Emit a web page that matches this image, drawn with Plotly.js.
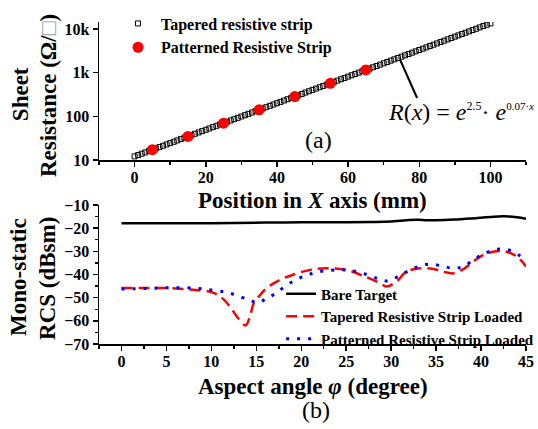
<!DOCTYPE html>
<html><head><meta charset="utf-8">
<script src="https://cdn.plot.ly/plotly-3.0.1.min.js"></script>
<style>body{margin:0;background:#fff}</style>
</head><body><div id="chart" style="width:538px;height:429px"></div>
<script>
// (a) Sheet resistance vs position
const taperedX = [0,1,2,3,4,5,6,7,8,9,10,11,12,13,14,15,16,17,18,19,20,21,22,23,24,25,26,27,28,29,30,31,32,33,34,35,36,37,38,39,40,41,42,43,44,45,46,47,48,49,50,51,52,53,54,55,56,57,58,59,60,61,62,63,64,65,66,67,68,69,70,71,72,73,74,75,76,77,78,79,80,81,82,83,84,85,86,87,88,89,90,91,92,93,94,95,96,97,98,99,100];
const taperedR = [12.18,13.06,14.01,15.03,16.12,17.29,18.54,19.89,21.33,22.88,24.53,26.31,28.22,30.27,32.46,34.81,37.34,40.04,42.95,46.06,49.40,52.98,56.82,60.94,65.36,70.10,75.18,80.63,86.48,92.75,99.48,106.7,114.4,122.7,131.6,141.2,151.4,162.4,174.1,186.8,200.3,214.9,230.4,247.1,265.1,284.3,304.9,327.0,350.7,376.2,403.4,432.7,464.1,497.7,533.8,572.5,614.0,658.5,706.3,757.5,812.4,871.3,934.5,1002,1075,1153,1236,1326,1422,1525,1636,1755,1882,2018,2165,2322,2490,2670,2864,3072,3294,3533,3790,4064,4359,4675,5014,5378,5768,6186,6635,7115,7631,8184,8778,9414,10097,10829,11614,12456,13359];
const patternedX = [5,15,25,35,45,55,65];
const patternedR = [17.3,34.8,70.1,141,284,572,1153];
const resTickVals = [10,100,1000,10000];
const resTickText = ['10','100','1k','10k'];

// (b) Mono-static RCS vs aspect angle
const bareAng = [0,5,10,16,20,25,28,30,31,32,33,34,35,37,39,41,42.5,44,45];
const bareRCS = [-17.9,-17.9,-17.9,-17.6,-17.5,-17.4,-17.3,-17.1,-16.8,-16.5,-16.4,-16.6,-16.6,-16.3,-15.8,-15.2,-14.9,-15.3,-16.0];
const taperAng = [0,2,4,6,8,10,11,12,13,13.8,14.3,14.7,15.5,16.1,17.6,19,21,22.8,25,26.9,28.8,29.5,30.6,31.7,33.2,34.7,35.8,36.9,38,39.1,40.6,42.5,44,45];
const taperRCS = [-45.8,-45.8,-45.8,-46,-46.6,-47.6,-49.5,-53.5,-59,-62,-58,-52.5,-48.5,-46,-42.4,-40.2,-38,-37.3,-38,-40.6,-43.8,-45.2,-43,-38.8,-37.3,-37.6,-38.8,-39.5,-37.8,-34.5,-30.9,-29.9,-32.3,-36.6];
const pattAng = [0,3,6,8.6,10,11.5,12.7,14.2,15.3,16.1,17.2,18.4,19.8,21,22.4,24.6,25.8,27.1,28.4,29.5,30.6,31.9,33.2,34.3,35.6,36.9,38,39.4,40.6,41.8,43.1,44.2,45];
const pattRCS = [-46.3,-46,-45.7,-46,-46.7,-47.6,-48.8,-51,-52.2,-50.3,-48.1,-44.5,-41.6,-39.8,-38.5,-38,-38.5,-39.8,-41.6,-42.8,-41.2,-38.5,-36.3,-35.5,-36.3,-37.3,-36.6,-33,-30.6,-29.1,-29.4,-31.6,-34.5];

const FF = 'Liberation Serif, Times New Roman, serif';
const boldFont = (s) => ({family: FF, size: s, color: '#000', weight: 'bold'});

const traces = [
  {x: taperedX, y: taperedR, type: 'scatter', mode: 'markers', name: 'Tapered resistive strip',
   xaxis: 'x', yaxis: 'y', legend: 'legend',
   marker: {symbol: 'square-open', size: 5, color: '#000', line: {width: 1, color: '#000'}}},
  {x: patternedX, y: patternedR, type: 'scatter', mode: 'markers', name: 'Patterned Resistive Strip',
   xaxis: 'x', yaxis: 'y', legend: 'legend',
   marker: {symbol: 'circle', size: 11, color: '#ff0000'}},
  {x: bareAng, y: bareRCS, type: 'scatter', mode: 'lines', name: 'Bare Target',
   xaxis: 'x2', yaxis: 'y2', legend: 'legend2',
   line: {color: '#000', width: 2.5, shape: 'spline'}},
  {x: taperAng, y: taperRCS, type: 'scatter', mode: 'lines', name: 'Tapered Resistive Strip Loaded',
   xaxis: 'x2', yaxis: 'y2', legend: 'legend2',
   line: {color: '#ff0000', width: 2.5, dash: '11px,6px', shape: 'spline'}},
  {x: pattAng, y: pattRCS, type: 'scatter', mode: 'lines', name: 'Patterned Resistive Strip Loaded',
   xaxis: 'x2', yaxis: 'y2', legend: 'legend2',
   line: {color: '#0000ff', width: 3, dash: '3px,8px', shape: 'spline'}}
];

const axBase = {
  showline: true, linecolor: '#000', linewidth: 1.5, showgrid: false, zeroline: false,
  ticks: 'outside', ticklen: 5, tickwidth: 1.5, tickcolor: '#000',
  tickfont: boldFont(16), mirror: false
};

const ann = (x, y, text, font, extra) => Object.assign({xref: 'paper', yref: 'paper', x: x, y: y,
  xanchor: 'center', yanchor: 'middle', showarrow: false, text: text, font: font}, extra || {});

const layout = {
  width: 538, height: 429,
  margin: {l: 99, r: 12, t: 22, b: 85, autoexpand: false},
  paper_bgcolor: '#fff', plot_bgcolor: '#fff',
  font: {family: FF, color: '#000'},
  xaxis: Object.assign({}, axBase, {domain: [0, 1], anchor: 'y', range: [-10, 110], tick0: 0, dtick: 20,
    ticklabelstandoff: -3,
    minor: {dtick: 10, ticklen: 3, tickwidth: 1.5, tickcolor: '#000', ticks: 'outside'}}),
  yaxis: Object.assign({}, axBase, {domain: [0.571, 1], anchor: 'x', type: 'log', range: [1, 4.158],
    tickvals: resTickVals, ticktext: resTickText}),
  xaxis2: Object.assign({}, axBase, {domain: [0, 1], anchor: 'y2', range: [-2.5, 45], tick0: 0, dtick: 5,
    ticklabelstandoff: -3,
    minor: {dtick: 2.5, ticklen: 3, tickwidth: 1.5, tickcolor: '#000', ticks: 'outside'}}),
  yaxis2: Object.assign({}, axBase, {domain: [0, 0.4317], anchor: 'x2', range: [-70, -10], dtick: 10,
    minor: {dtick: 5, ticklen: 3, tickwidth: 1.5, tickcolor: '#000', ticks: 'outside'}}),
  legend: {x: 0.0375, y: 1.048, xanchor: 'left', yanchor: 'top', bgcolor: 'rgba(0,0,0,0)',
    font: boldFont(16), tracegroupgap: 0, itemwidth: 36},
  legend2: {x: 0.4265, y: 0.2065, xanchor: 'left', yanchor: 'top', bgcolor: 'rgba(0,0,0,0)',
    font: boldFont(15), tracegroupgap: 0},
  shapes: [
    {type: 'line', xref: 'paper', yref: 'paper', x0: 0.7054, y0: 0.882, x1: 0.745, y1: 0.764,
     line: {color: '#000', width: 2}}
  ],
  annotations: [
    ann(0.671, 0.72,
      '<i>R</i>(<i>x</i>) = <i>e</i><sup><span style="font-size:12px">2.5</span></sup>· <i>e</i><sup><span style="font-size:11px">0.07·<i>x</i></span></sup>',
      {family: FF, size: 24, color: '#000'}, {xanchor: 'left'}),
    ann(0.513, 0.634, '(a)', {family: FF, size: 24, color: '#000'}),
    ann(0.509, -0.205, '(b)', {family: FF, size: 24, color: '#000'}),
    ann(0.5, 0.447, 'Position in <i>X</i> axis (mm)', boldFont(23)),
    ann(0.5, -0.1335, 'Aspect angle <i>φ</i> (degree)', boldFont(23)),
    ann(-0.185, 0.776, 'Sheet', boldFont(23), {textangle: -90}),
    ann(-0.1195, 0.773, 'Resistance (Ω/<span style="color:#999;font-weight:normal">□</span>)', boldFont(23), {textangle: -90}),
    ann(-0.19, 0.208, 'Mono-static', boldFont(23), {textangle: -90}),
    ann(-0.1195, 0.205, 'RCS (dBsm)', boldFont(23), {textangle: -90})
  ]
};

Plotly.newPlot('chart', traces, layout, {displayModeBar: false, staticPlot: true});
</script></body></html>
